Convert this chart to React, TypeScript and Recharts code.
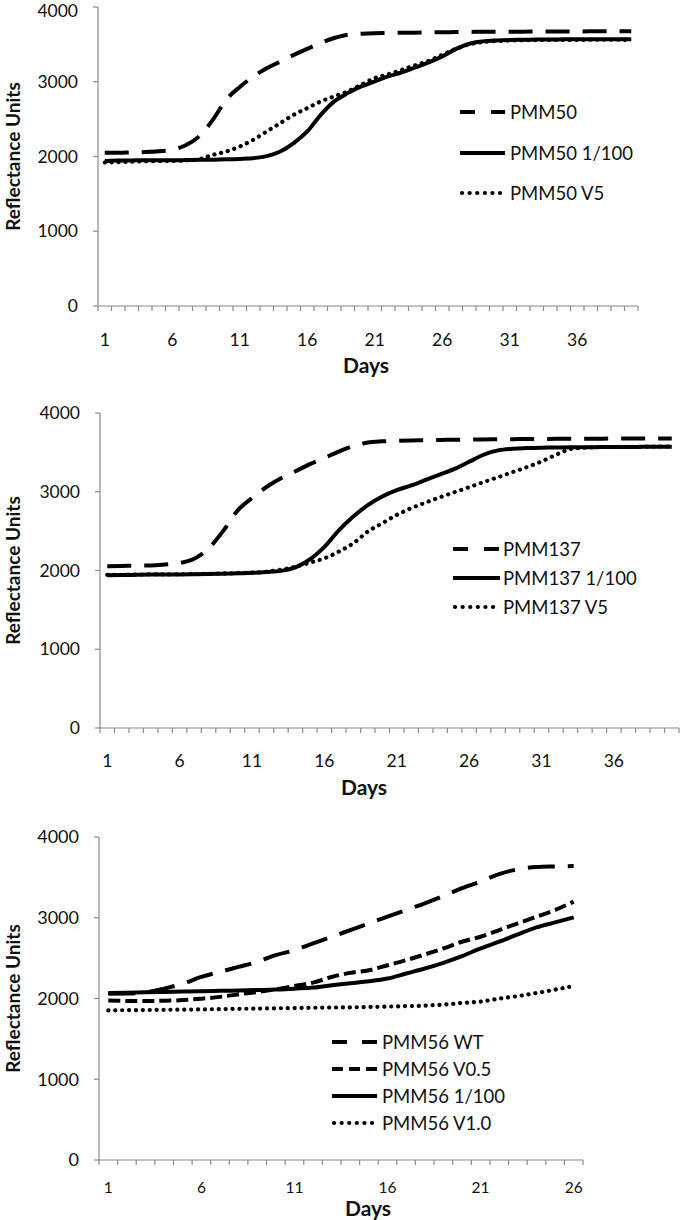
import { LineChart, Line, XAxis, YAxis, Legend } from "recharts";

const AXIS = "#8a8a8a";
const INK = "#111";
const FONT = "Lato, 'Open Sans', sans-serif";

// days on the category axis
const DAYS_40 = [
  1, 2, 3, 4, 5, 6, 7, 8, 9, 10, 11, 12, 13, 14, 15, 16, 17, 18, 19, 20,
  21, 22, 23, 24, 25, 26, 27, 28, 29, 30, 31, 32, 33, 34, 35, 36, 37, 38, 39, 40,
];
const DAYS_26 = [
  1, 2, 3, 4, 5, 6, 7, 8, 9, 10, 11, 12, 13, 14, 15, 16, 17, 18, 19, 20,
  21, 22, 23, 24, 25, 26,
];
const LABELS_40 = [1, 6, 11, 16, 21, 26, 31, 36];
const LABELS_26 = [1, 6, 11, 16, 21, 26];
const Y_TICKS = [0, 1000, 2000, 3000, 4000];

// panel 1
const PMM50 = [
  2050, 2050, 2055, 2060, 2070, 2090, 2150, 2270, 2490, 2760, 2930, 3070, 3180, 3270, 3360, 3440, 3520, 3585, 3630, 3643,
  3650, 3652, 3655, 3657, 3660, 3662, 3665, 3667, 3668, 3670, 3670, 3670, 3672, 3672, 3673, 3673, 3674, 3674, 3675, 3675,
];
const PMM50_1_100 = [
  1940, 1945, 1948, 1950, 1950, 1950, 1952, 1955, 1958, 1962, 1968, 1978, 2005, 2067, 2180, 2335, 2558, 2737, 2848, 2937,
  3004, 3071, 3125, 3192, 3259, 3339, 3437, 3509, 3540, 3553, 3560, 3562, 3565, 3565, 3567, 3567, 3568, 3568, 3568, 3568,
];
const PMM50_V5 = [
  1920, 1925, 1930, 1935, 1938, 1940, 1948, 1965, 2022, 2067, 2134, 2223, 2335, 2446, 2558, 2647, 2737, 2804, 2870, 2960,
  3049, 3100, 3160, 3220, 3280, 3360, 3440, 3500, 3530, 3545, 3552, 3555, 3558, 3560, 3560, 3560, 3562, 3562, 3562, 3555,
];

// panel 2
const PMM137 = [
  2055, 2058, 2060, 2065, 2075, 2095, 2150, 2280, 2500, 2760, 2920, 3060, 3170, 3260, 3350, 3430, 3510, 3580, 3625, 3640,
  3648, 3652, 3655, 3658, 3660, 3663, 3665, 3667, 3668, 3670, 3670, 3672, 3672, 3673, 3674, 3675, 3675, 3676, 3676, 3677,
];
const PMM137_1_100 = [
  1940, 1942, 1945, 1948, 1950, 1950, 1952, 1955, 1960, 1965, 1970, 1980, 1995, 2040, 2140, 2300, 2510, 2685, 2830, 2940,
  3020, 3080, 3150, 3220, 3290, 3380, 3470, 3525, 3545, 3555, 3560, 3562, 3565, 3565, 3567, 3568, 3568, 3570, 3570, 3570,
];
const PMM137_V5 = [
  1945, 1946, 1948, 1950, 1950, 1952, 1955, 1958, 1962, 1966, 1972, 1985, 2010, 2049, 2100, 2155, 2240, 2346, 2494, 2600,
  2706, 2791, 2863, 2931, 2995, 3058, 3122, 3185, 3249, 3313, 3385, 3470, 3542, 3560, 3565, 3568, 3570, 3572, 3574, 3575,
];

// panel 3
const PMM56_WT = [
  2060, 2062, 2075, 2122, 2184, 2267, 2330, 2392, 2454, 2537, 2599, 2682, 2764, 2847, 2930, 3013, 3096, 3179, 3270, 3366,
  3449, 3540, 3600, 3627, 3635, 3640,
];
const PMM56_V05 = [
  1975, 1970, 1970, 1972, 1980, 1998, 2020, 2052, 2081, 2114, 2155, 2197, 2267, 2317, 2350, 2412, 2475, 2545, 2620, 2703,
  2765, 2848, 2930, 3013, 3096, 3200,
];
const PMM56_1_100 = [
  2068, 2072, 2078, 2082, 2086, 2090, 2095, 2100, 2105, 2110, 2122, 2135, 2164, 2190, 2213, 2247, 2309, 2371, 2442, 2524,
  2620, 2703, 2794, 2881, 2943, 3005,
];
const PMM56_V10 = [
  1853, 1855, 1857, 1860, 1862, 1865, 1868, 1872, 1875, 1878, 1882, 1885, 1888, 1890, 1895, 1900, 1905, 1912, 1925, 1944,
  1962, 1998, 2030, 2068, 2110, 2155,
];

type LineStyle = { dash?: string; width: number; cap?: "round" | "butt"; legendDash?: string };
const LONG_DASH: LineStyle = { dash: "24 13", width: 4, legendDash: "15 16" };
const WT_DASH: LineStyle = { dash: "27 13", width: 4, legendDash: "15 15" };
const SHORT_DASH: LineStyle = { dash: "12 5", width: 4, legendDash: "11 6" };
const SOLID: LineStyle = { width: 4 };
const DOTS: LineStyle = { dash: "0.1 6.8", width: 4.2, cap: "round", legendDash: "0.1 7.5" };

type Series = { key: string; name: string; values: number[]; style: LineStyle };

interface PanelCfg {
  top: number;
  height: number;
  margin: { top: number; right: number; bottom: number; left: number };
  xAxisHeight: number;
  xTickFont: number;
  yTickFont: number;
  tickDy: number;
  daysX: number;
  daysDy: number;
  legend: { left: number; top: number; row: number; symbol: number; gap: number; font: number };
}

function dayTick(font: number, dy: number) {
  return (props: any) => {
    const { x, y, payload } = props;
    const v = payload.value;
    if (!Number.isInteger(v)) {
      return <line x1={x} x2={x} y1={y} y2={y + 5} stroke={AXIS} strokeWidth={1.2} />;
    }
    return (
      <text x={x} y={y + dy} textAnchor="middle" dominantBaseline="central" fontSize={font} fill={INK} fontFamily={FONT}>
        {v}
      </text>
    );
  };
}

function Panel({ cfg, days, labels, series }: { cfg: PanelCfg; days: number[]; labels: number[]; series: Series[] }) {
  const data = days.map((day, i) => {
    const row: Record<string, number> = { day };
    series.forEach((s) => (row[s.key] = s.values[i]));
    return row;
  });
  const bounds = [days[0] - 0.5, ...days.map((d) => d + 0.5)];
  const ticks = [...bounds, ...labels].sort((a, b) => a - b);
  const first = days[0] - 0.5;
  const last = days[days.length - 1] + 0.5;
  const lg = cfg.legend;

  return (
    <div style={{ position: "absolute", left: 0, top: cfg.top }}>
      <LineChart width={680} height={cfg.height} data={data} margin={cfg.margin}>
        <XAxis
          dataKey="day"
          type="number"
          domain={[first, last]}
          ticks={ticks}
          interval={0}
          tickSize={0}
          tickMargin={0}
          tickLine={false}
          stroke={AXIS}
          strokeWidth={1.2}
          height={cfg.xAxisHeight}
          tick={dayTick(cfg.xTickFont, cfg.tickDy)}
          label={(p: any) => (
            <text
              x={cfg.daysX}
              y={p.viewBox.y + cfg.daysDy}
              textAnchor="middle"
              dominantBaseline="central"
              fontSize={21}
              fontWeight="bold"
              fill={INK}
              fontFamily={FONT}
            >
              Days
            </text>
          )}
        />
        <YAxis
          domain={[0, 4000]}
          ticks={Y_TICKS}
          width={60}
          stroke={AXIS}
          strokeWidth={1.2}
          tickSize={5}
          tickMargin={15}
          tick={{ fontSize: cfg.yTickFont, fill: INK, fontFamily: FONT }}
          label={(p: any) => {
            const cy = p.viewBox.y + p.viewBox.height / 2;
            return (
              <text
                x={12}
                y={cy}
                transform={`rotate(-90 12 ${cy})`}
                textAnchor="middle"
                dominantBaseline="central"
                fontSize={19}
                fontWeight="bold"
                fill={INK}
                fontFamily={FONT}
              >
                Reflectance Units
              </text>
            );
          }}
        />
        <Legend
          layout="vertical"
          align="center"
          verticalAlign="middle"
          wrapperStyle={{ left: lg.left, top: lg.top, width: 260 }}
          content={() => (
            <div style={{ fontFamily: FONT, fontSize: lg.font, color: INK }}>
              {series.map((s) => (
                <div key={s.key} style={{ display: "flex", alignItems: "center", height: lg.row }}>
                  <svg width={lg.symbol} height={10} style={{ overflow: "visible" }}>
                    <line
                      x1={s.style.cap === "round" ? 2 : 0}
                      x2={lg.symbol}
                      y1={5}
                      y2={5}
                      stroke="#000"
                      strokeWidth={s.style.width}
                      strokeDasharray={s.style.legendDash}
                      strokeLinecap={s.style.cap ?? "butt"}
                    />
                  </svg>
                  <span style={{ marginLeft: lg.gap, whiteSpace: "nowrap", lineHeight: 1 }}>{s.name}</span>
                </div>
              ))}
            </div>
          )}
        />
        {series.map((s) => (
          <Line
            key={s.key}
            type="monotone"
            dataKey={s.key}
            name={s.name}
            stroke="#000"
            strokeWidth={s.style.width}
            strokeDasharray={s.style.dash}
            strokeLinecap={s.style.cap ?? "butt"}
            dot={false}
            activeDot={false}
            isAnimationActive={false}
          />
        ))}
      </LineChart>
    </div>
  );
}

const PANEL_1: PanelCfg = {
  top: 0,
  height: 380,
  margin: { top: 7, right: 42, bottom: 14, left: 38 },
  xAxisHeight: 60,
  xTickFont: 17.5,
  yTickFont: 17.5,
  tickDy: 33,
  daysX: 366,
  daysDy: 58,
  legend: { left: 460, top: 92, row: 40.5, symbol: 45, gap: 5, font: 18.5 },
};

const PANEL_2: PanelCfg = {
  top: 380,
  height: 420,
  margin: { top: 33, right: 1, bottom: 12, left: 40 },
  xAxisHeight: 60,
  xTickFont: 17.5,
  yTickFont: 17.5,
  tickDy: 32,
  daysX: 364,
  daysDy: 58,
  legend: { left: 453, top: 154.5, row: 29, symbol: 47, gap: 3, font: 18.5 },
};

const PANEL_3: PanelCfg = {
  top: 800,
  height: 420,
  margin: { top: 37, right: 97, bottom: 10, left: 39 },
  xAxisHeight: 50,
  xTickFont: 15.5,
  yTickFont: 18,
  tickDy: 27,
  daysX: 368,
  daysDy: 47,
  legend: { left: 332, top: 228.5, row: 27, symbol: 45, gap: 5, font: 18.5 },
};

export default function App() {
  return (
    <div style={{ position: "absolute", left: 0, top: 0, width: 680, height: 1220, background: "#fff" }}>
      <Panel
        cfg={PANEL_1}
        days={DAYS_40}
        labels={LABELS_40}
        series={[
          { key: "pmm50", name: "PMM50", values: PMM50, style: LONG_DASH },
          { key: "pmm50_1_100", name: "PMM50 1/100", values: PMM50_1_100, style: SOLID },
          { key: "pmm50_v5", name: "PMM50 V5", values: PMM50_V5, style: DOTS },
        ]}
      />
      <Panel
        cfg={PANEL_2}
        days={DAYS_40}
        labels={LABELS_40}
        series={[
          { key: "pmm137", name: "PMM137", values: PMM137, style: LONG_DASH },
          { key: "pmm137_1_100", name: "PMM137 1/100", values: PMM137_1_100, style: SOLID },
          { key: "pmm137_v5", name: "PMM137 V5", values: PMM137_V5, style: DOTS },
        ]}
      />
      <Panel
        cfg={PANEL_3}
        days={DAYS_26}
        labels={LABELS_26}
        series={[
          { key: "wt", name: "PMM56 WT", values: PMM56_WT, style: WT_DASH },
          { key: "v05", name: "PMM56 V0.5", values: PMM56_V05, style: SHORT_DASH },
          { key: "s100", name: "PMM56 1/100", values: PMM56_1_100, style: SOLID },
          { key: "v10", name: "PMM56 V1.0", values: PMM56_V10, style: DOTS },
        ]}
      />
    </div>
  );
}
